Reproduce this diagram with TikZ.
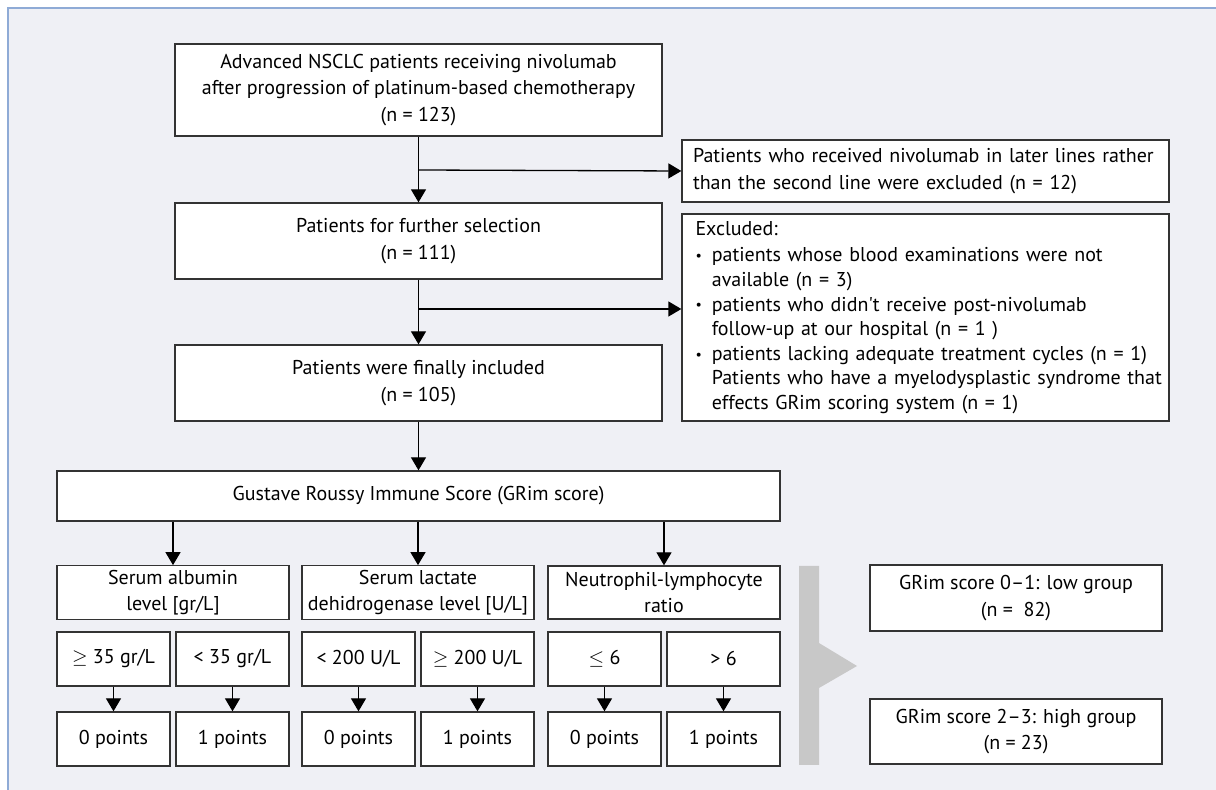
\documentclass[tikz,border=0pt]{standalone}
\usepackage{fontspec}
\setmainfont{PT Sans}
\usepackage{tikz}
\usetikzlibrary{calc}
\usetikzlibrary{positioning}
\usetikzlibrary{arrows.meta}
\definecolor{panelbg}{HTML}{EFF0F5}
\definecolor{panelline}{HTML}{8FABD6}
\definecolor{boxline}{HTML}{333333}
\definecolor{wedge}{HTML}{C8C8C8}
\newcommand{\dotitem}{\raisebox{0.6pt}{\scriptsize\textbullet}}
\tikzset{
  box/.style={draw=boxline,fill=white,line width=0.65pt,align=center,inner sep=2pt,
    font=\fontsize{10}{13.3}\selectfont},
  cell/.style={box,minimum width=56.5pt,minimum height=27pt},
  crit/.style={box,minimum width=116pt,minimum height=26.5pt},
  arr/.style={-{Triangle[width=7.5pt,length=6.5pt]},line width=0.65pt,draw=black}
}

\begin{document}
\begin{tikzpicture}[x=0.5pt,y=-0.5pt]
\useasboundingbox (0,0) rectangle (1216,790);
\fill[white] (0,0) rectangle (1216,790);
\fill[panelbg] (8,8) rectangle (1216,790);
\draw[panelline,line width=1pt] (8,790) -- (8,8) -- (1216,8);

% main column
\node[box,minimum width=243.5pt,minimum height=46pt] (start) at (418.5,90)
  {Advanced NSCLC patients receiving nivolumab\\after progression of platinum-based chemotherapy\\(n = 123)};
\node[box,minimum width=243.5pt,minimum height=38pt] (further) at (418.5,241)
  {Patients for further selection\\(n = 111)};
\node[box,minimum width=243.5pt,minimum height=38pt] (included) at (418.5,383)
  {Patients were finally included\\(n = 105)};

% exclusions
\node[box,minimum height=31pt,text width=232.5pt,inner xsep=5.5pt,align=left] (later) at (925.5,171)
  {Patients who received nivolumab in later lines rather\\than the second line were excluded (n = 12)};
\node[box,minimum height=103.5pt,text width=230pt,inner xsep=6.75pt,align=left] (excl) at (925.5,317.5)
  {\fontsize{10}{12.3}\selectfont
   \begin{tabular}{@{}l@{\hspace{5pt}}l@{}}
   \multicolumn{2}{@{}l}{Excluded:}\\[1pt]
   \dotitem & patients whose blood examinations were not\\
            & available (n = 3)\\
   \dotitem & patients who didn\textquotesingle t receive post-nivolumab\\
            & follow-up at our hospital (n = 1 )\\
   \dotitem & patients lacking adequate treatment cycles (n = 1)\\
            & Patients who have a myelodysplastic syndrome that\\
            & effects GRim scoring system (n = 1)
   \end{tabular}};

\coordinate (cut1) at (418.5,170);
\coordinate (cut2) at (418.5,309);
\draw[arr] (start) -- (further);
\draw[arr] (further) -- (included);
\draw[arr] (cut1) -- (later.west);
\draw[arr] (cut2) -- (cut2 -| excl.west);

% GRim score
\node[box,minimum width=361.5pt,minimum height=25pt] (grim) at (418.5,496)
  {Gustave Roussy Immune Score (GRim score)};
\draw[arr] (included) -- (grim);

\node[crit] (alb) at (173,592.5) {Serum albumin\\level [gr/L]};
\node[crit] (ldh) at (418,592.5) {Serum lactate\\dehidrogenase level [U/L]};
\node[crit] (nlr) at (664,592.5) {Neutrophil-lymphocyte\\ratio};
\foreach \c in {alb,ldh,nlr}
  \draw[arr] (\c |- grim.south) -- (\c.north);

\foreach \cx/\lim/\pts [count=\i] in {113.5/{$\geq$ 35 gr/L}/0,232.5/{< 35 gr/L}/1,
    358.5/{< 200 U/L}/0,477.5/{$\geq$ 200 U/L}/1,604.5/{$\leq$ 6}/0,723.5/{> 6}/1}{
  \node[cell] (lim\i) at (\cx,659) {\lim};
  \node[cell] (pts\i) at (\cx,739) {\pts\ points};
  \draw[arr] (lim\i) -- (pts\i);
}

% groups
\fill[wedge] (799,566) -- (819,566) -- (819,643) -- (857,666) -- (819,688)
  -- (819,765) -- (799,765) -- cycle;
\node[box,minimum width=146pt,minimum height=33pt] (low) at (1016,598)
  {GRim score 0–1: low group\\(n =~~82)};
\node[box,minimum width=146pt,minimum height=32.5pt] (high) at (1016,731.5)
  {GRim score 2–3: high group\\(n = 23)};
\end{tikzpicture}
\end{document}
